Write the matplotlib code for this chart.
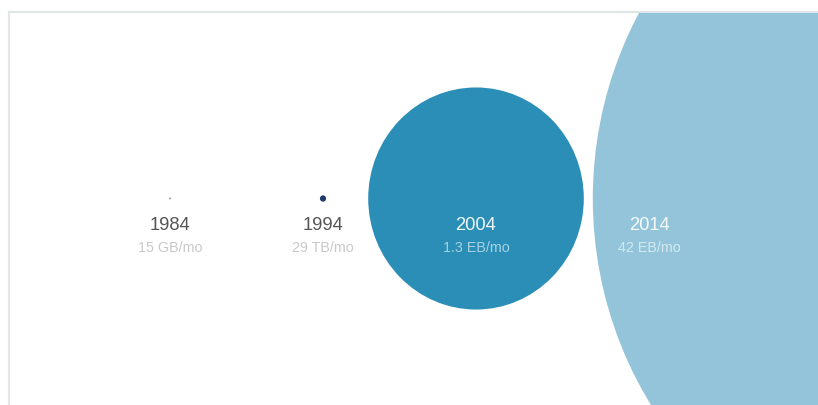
import matplotlib
matplotlib.use("Agg")
import matplotlib.pyplot as plt
from matplotlib.patches import Ellipse

# ---- data ----
years = ["1984", "1994", "2004", "2014"]
traffic_labels = ["15 GB/mo", "29 TB/mo", "1.3 EB/mo", "42 EB/mo"]
traffic_gb = [15, 29e3, 1.3e9, 42e9]          # monthly traffic in GB

# ---- styles ----
fill_colors = ["#9a9a9a", "#1d3a6b", "#2b8eb6", "#93c4d9"]
year_colors = ["#555555", "#555555", "#eef7fa", "#f4fafc"]
sub_colors = ["#c9c9c9", "#c9c9c9", "#a6d3e4", "#d3e9f2"]

plt.rcParams['font.family'] = ['Liberation Sans', 'DejaVu Sans']

W, H = 818, 406
fig = plt.figure(figsize=(W / 100, H / 100), dpi=100)
ax = fig.add_axes([0, 0, 1, 1])
ax.set_xlim(0, W)
ax.set_ylim(H, 0)
ax.axis("off")

# panel frame
left, top = 9, 13
ax.plot([left, W], [top, top], color="#dfe6e6", lw=1.5, zorder=1)
ax.plot([left, left], [top, H], color="#e3e6e6", lw=1.5, zorder=1)

# radius scale (px) : power scale anchored on 2004 circle
ref_val, ref_r, power = traffic_gb[2], 107.0, 0.36
radii = [ref_r * (v / ref_val) ** power + 0.8 for v in traffic_gb]
ystretch = 1.03

cy = 199.5
step = 153
x0 = 170
centers = []
label_x = []
for i, r in enumerate(radii):
    if i < 3:
        cx = x0 + i * step
        lx = cx
    else:
        prev_right = centers[-1] + radii[i - 1]
        cx = prev_right + 9 + r
        lx = cx - r + 57
    centers.append(cx)
    label_x.append(lx)

clip = plt.Rectangle((left + 1, top + 1), W - left, H - top, transform=ax.transData)
for cx, r, c in zip(centers, radii, fill_colors):
    e = Ellipse((cx, cy), 2 * r, 2 * r * ystretch, facecolor=c, edgecolor="none", zorder=2)
    ax.add_patch(e)
    e.set_clip_path(clip)

for i in range(len(years)):
    ax.text(label_x[i], 226, years[i], ha="center", va="center",
            fontsize=13.2, color=year_colors[i], zorder=3)
    ax.text(label_x[i], 248, traffic_labels[i], ha="center", va="center",
            fontsize=10.3, color=sub_colors[i], zorder=3)

fig.savefig("out.png", dpi=100, facecolor="white")
